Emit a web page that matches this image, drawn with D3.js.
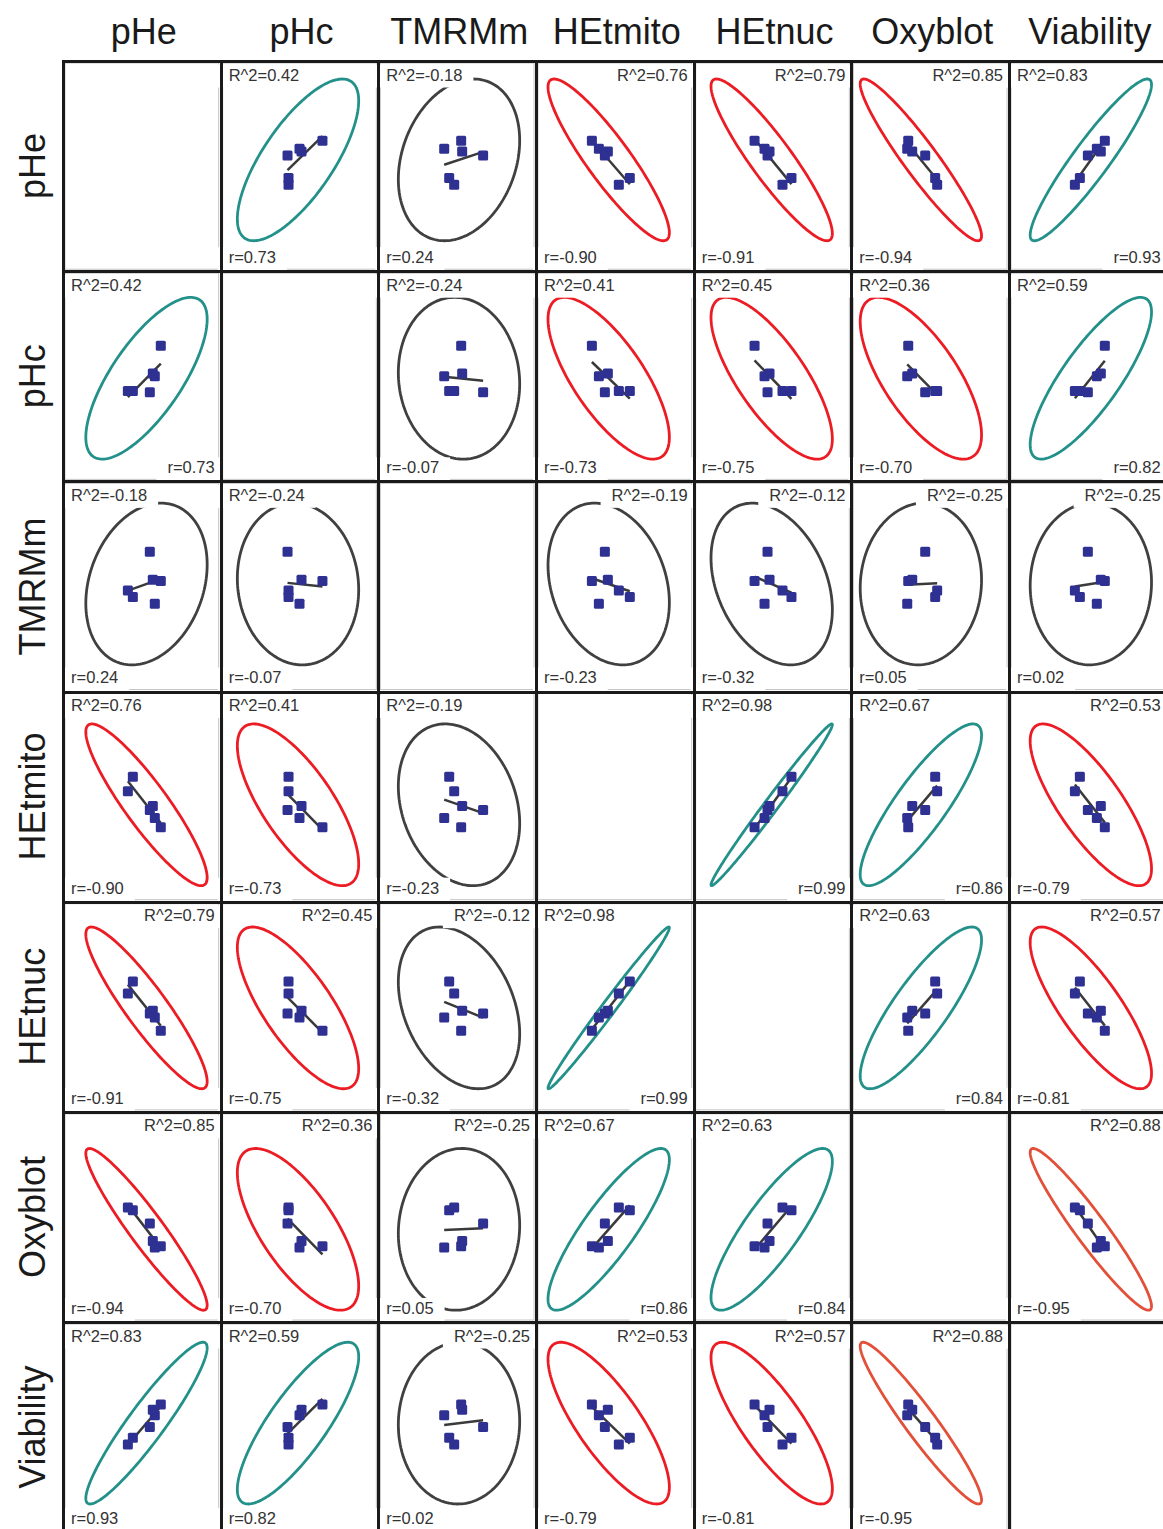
<!DOCTYPE html>
<html>
<head>
<meta charset="utf-8">
<script src="https://cdn.jsdelivr.net/npm/d3@7"></script>
<style>
  body { margin: 0; background: #fff; }
  svg { display: block; }
</style>
</head>
<body>
<div id="chart"></div>
<script>
const variables = ["pHe", "pHc", "TMRMm", "HEtmito", "HEtnuc", "Oxyblot", "Viability"];

// six samples per variable (plot units, 0..158)
const pHe       = [98, 92, 90, 87, 70, 65];
const pHc       = [102, 79, 81, 67, 68, 68];
const TMRMm     = [83, 66, 84, 105, 71, 76];
const HEtmito   = [56, 63, 72, 69, 94, 83];
const HEtnuc    = [61, 71, 76, 74, 98, 89];
const Oxyblot   = [57, 56, 61, 74, 84, 86];
const Viability = [96, 88, 92, 79, 71, 66];

const series = [pHe, pHc, TMRMm, HEtmito, HEtnuc, Oxyblot, Viability];

// printed correlation coefficients
const rValues = [
  [null, 0.73, 0.24, -0.90, -0.91, -0.94, 0.93],
  [0.73, null, -0.07, -0.73, -0.75, -0.70, 0.82],
  [0.24, -0.07, null, -0.23, -0.32, 0.05, 0.02],
  [-0.90, -0.73, -0.23, null, 0.99, 0.86, -0.79],
  [-0.91, -0.75, -0.32, 0.99, null, 0.84, -0.81],
  [-0.94, -0.70, 0.05, 0.86, 0.84, null, -0.95],
  [0.93, 0.82, 0.02, -0.79, -0.81, -0.95, null]
];

// printed R^2 values
const r2Values = [
  [null, 0.42, -0.18, 0.76, 0.79, 0.85, 0.83],
  [0.42, null, -0.24, 0.41, 0.45, 0.36, 0.59],
  [-0.18, -0.24, null, -0.19, -0.12, -0.25, -0.25],
  [0.76, 0.41, -0.19, null, 0.98, 0.67, 0.53],
  [0.79, 0.45, -0.12, 0.98, null, 0.63, 0.57],
  [0.85, 0.36, -0.25, 0.67, 0.63, null, 0.88],
  [0.83, 0.59, -0.25, 0.53, 0.57, 0.88, null]
];

// which side each label sits on (L / R)
const r2Side = [
  "-LLRRRL",
  "L-LLLLL",
  "LL-RRRR",
  "LLL-LLR",
  "RRRL-LR",
  "RRRLL-R",
  "LLRRRR-"
];
const rSide = [
  "-LLLLLR",
  "R-LLLLR",
  "LL-LLLL",
  "LLL-RRL",
  "LLLR-RL",
  "LLLRR-L",
  "LLLLLL-"
];

const width = 1163;
const height = 1529;
const cellW = 157.67;
const cellH = 210.17;
const gridLeft = 63;
const gridTop = 61;

const col = d3.scaleBand().domain(variables).range([gridLeft, gridLeft + cellW * 7]);
const row = d3.scaleBand().domain(variables).range([gridTop, gridTop + cellH * 7]);

const unit = [0, 158];
const ellipseSize = 60.8;

const fmt = d3.formatLocale({decimal: ".", thousands: ",", grouping: [3], currency: ["", ""], minus: "-"}).format(".2f");

function ellipseColor(r) {
  if (r <= -0.95) return "#e2503a";
  if (r <= -0.5) return "#ec1c24";
  if (r >= 0.5) return "#23908a";
  return "#404040";
}

const svg = d3.select("#chart").append("svg")
    .attr("width", width)
    .attr("height", height)
    .attr("font-family", "'Liberation Sans', Arial, Helvetica, sans-serif");

// headers
svg.append("g")
  .selectAll("text")
  .data(variables)
  .join("text")
    .attr("x", d => col(d) + cellW / 2 + 2)
    .attr("y", 44)
    .attr("text-anchor", "middle")
    .attr("font-size", 36)
    .attr("fill", "#1a1a1a")
    .text(d => d);

svg.append("g")
  .selectAll("text")
  .data(variables)
  .join("text")
    .attr("transform", d => `translate(45,${row(d) + cellH / 2}) rotate(-90)`)
    .attr("text-anchor", "middle")
    .attr("font-size", 36)
    .attr("fill", "#1a1a1a")
    .text(d => d);

const cells = [];
variables.forEach((rv, i) => variables.forEach((cv, j) => cells.push({i, j, rv, cv})));

const cell = svg.append("g")
  .selectAll("g")
  .data(cells)
  .join("g")
    .attr("transform", d => `translate(${col(d.cv)},${row(d.rv)})`);

cell.append("rect")
    .attr("x", 2)
    .attr("y", 2)
    .attr("width", cellW - 4)
    .attr("height", cellH - 4)
    .attr("fill", "#fff")
    .attr("stroke", "#c4c4c4")
    .attr("stroke-width", 1);

const x = d3.scaleLinear().domain(unit).range([0, cellW]);
const y = d3.scaleLinear().domain(unit).range([cellH, 0]);

cell.filter(d => d.i !== d.j).each(function(d) {
  const g = d3.select(this);
  const xs = series[d.j];
  const ys = series[d.i];
  const r = rValues[d.i][d.j];
  const mx = d3.mean(xs), my = d3.mean(ys);

  // correlation ellipse
  const delta = Math.acos(r);
  const ts = d3.range(0, 2 * Math.PI, Math.PI / 90);
  g.append("path")
      .datum(ts)
      .attr("fill", "none")
      .attr("stroke", ellipseColor(r))
      .attr("stroke-width", 2.8)
      .attr("d", d3.line()
          .x(t => x(mx + ellipseSize * Math.cos(t + delta / 2)))
          .y(t => y(my + ellipseSize * Math.cos(t - delta / 2)))
          .curve(d3.curveLinearClosed));

  // least squares fit of row variable on column variable
  const sxy = d3.sum(xs, (v, k) => (v - mx) * (ys[k] - my));
  const sxx = d3.sum(xs, v => (v - mx) ** 2);
  const slope = sxy / sxx;
  const [x1, x2] = d3.extent(xs);
  g.append("line")
      .attr("x1", x(x1))
      .attr("y1", y(my + slope * (x1 - mx)))
      .attr("x2", x(x2))
      .attr("y2", y(my + slope * (x2 - mx)))
      .attr("stroke", "#3a3a3a")
      .attr("stroke-width", 2.5);

  g.selectAll("rect.pt")
    .data(xs.map((v, k) => [v, ys[k]]))
    .join("rect")
      .attr("class", "pt")
      .attr("x", p => x(p[0]) - 5)
      .attr("y", p => y(p[1]) - 5)
      .attr("width", 10)
      .attr("height", 10)
      .attr("rx", 1.5)
      .attr("fill", "#2e3192");

  const labels = [
    {text: "R^2=" + fmt(r2Values[d.i][d.j]), side: r2Side[d.i][d.j], base: 19.5},
    {text: "r=" + fmt(r), side: rSide[d.i][d.j], base: cellH - 8}
  ];
  labels.forEach(l => {
    const t = g.append("text")
        .attr("x", l.side === "L" ? 8 : cellW - 6)
        .attr("y", l.base)
        .attr("text-anchor", l.side === "L" ? "start" : "end")
        .attr("font-size", 16.5)
        .attr("fill", "#333")
        .text(l.text);
    const b = t.node().getBBox();
    g.insert("rect", function() { return t.node(); })
        .attr("x", b.x - 11)
        .attr("y", b.y - 1)
        .attr("width", b.width + 22)
        .attr("height", b.height + 5)
        .attr("fill", "#fff");
  });
});

// thick grid lines, snapped to whole pixels
const snap = v => Math.round(v) + 0.5;
const grid = svg.append("g")
    .attr("stroke", "#1a1a1a")
    .attr("stroke-width", 3);

grid.selectAll("line.v")
  .data(variables)
  .join("line")
    .attr("class", "v")
    .attr("x1", d => snap(col(d)))
    .attr("x2", d => snap(col(d)))
    .attr("y1", gridTop - 1)
    .attr("y2", height);

grid.selectAll("line.h")
  .data(variables)
  .join("line")
    .attr("class", "h")
    .attr("x1", gridLeft - 1)
    .attr("x2", width)
    .attr("y1", d => snap(row(d)))
    .attr("y2", d => snap(row(d)));
</script>
</body>
</html>
